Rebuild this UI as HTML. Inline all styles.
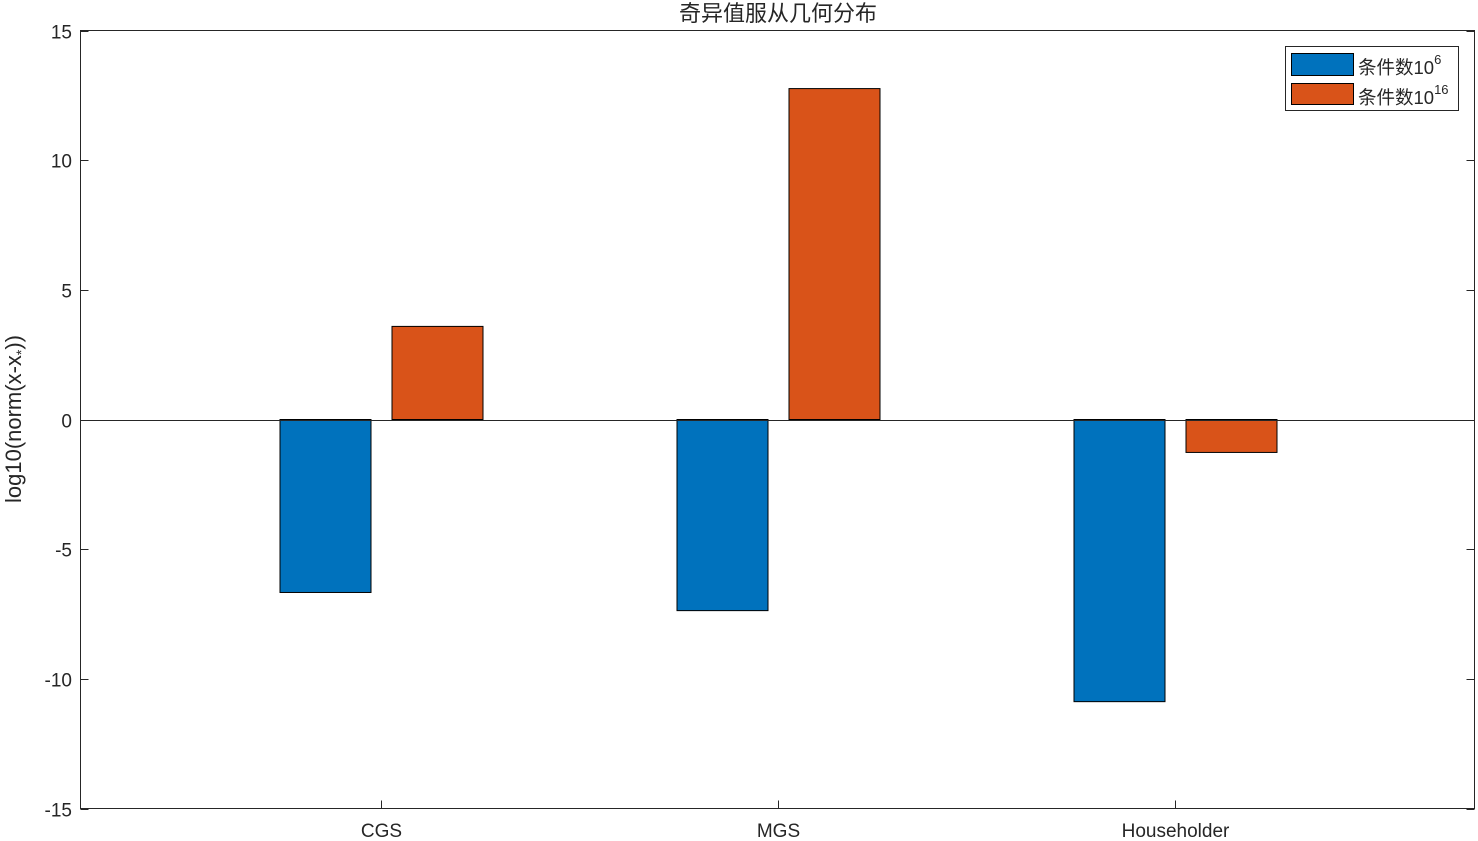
<!DOCTYPE html>
<html><head><meta charset="utf-8"><style>body{margin:0;background:#fff}svg{display:block;font-family:"Liberation Sans","Noto Sans CJK SC",sans-serif}</style></head>
<body>
<svg id="c" width="1478" height="841">
<text x="778" y="21" text-anchor="middle" font-size="22" fill="#262626">奇异值服从几何分布</text>
<text transform="translate(21,419) rotate(-90)" text-anchor="middle" font-size="22" fill="#262626">log10(norm(x-x<tspan font-size="14" dy="5">*</tspan><tspan dy="-5">))</tspan></text>
<g id="marks"></g>
<rect x="80.5" y="30.5" width="1394" height="778" fill="none" stroke="#262626"/>
<g>
<rect x="1285.5" y="46.5" width="173" height="64" fill="#fff" stroke="#262626"/>
<rect x="1291.5" y="53.5" width="62" height="22" fill="#0072BD" stroke="#000"/>
<text x="1358" y="74" font-size="18.5" fill="#262626">条件数10<tspan font-size="13" dy="-10">6</tspan></text>
<rect x="1291.5" y="83.5" width="62" height="21" fill="#D95319" stroke="#000"/>
<text x="1358" y="104" font-size="18.5" fill="#262626">条件数10<tspan font-size="13" dy="-10">16</tspan></text>
</g>
</svg>
<script>
const categories=["CGS","MGS","Householder"];
const cond6=[-6.67,-7.37,-10.88];
const cond16=[3.59,12.76,-1.27];
const yTicks=[15,10,5,0,-5,-10,-15];
const NS="http://www.w3.org/2000/svg";
const L=80.5,R=1474.5,T=30.5,B=808.5;
function y(v){return T+(15-v)*(B-T)/30;}
function x(i){return 381+i*397;}
const g=document.getElementById('marks');
function mk(t,a){const e=document.createElementNS(NS,t);for(const k in a)e.setAttribute(k,a[k]);g.appendChild(e);return e;}
yTicks.forEach(v=>{
  const yy=Math.round(y(v))+0.5;
  const a=mk('line',{x1:L,x2:L+8,y1:yy,y2:yy,stroke:'#262626'});
  
  
  const b=mk('line',{x1:R-8,x2:R,y1:yy,y2:yy,stroke:'#262626'});
  
  
  const t=mk('text',{x:72,y:yy+7,'text-anchor':'end','font-size':19,fill:'#262626'});
  t.textContent=v;
  
  
});
categories.forEach((c,i)=>{
  const xx=x(i)+0.5;
  const a=mk('line',{x1:xx,x2:xx,y1:B,y2:B-8,stroke:'#262626'});
  
  
  const t=mk('text',{x:xx,y:837,'text-anchor':'middle','font-size':19,fill:'#262626'});
  t.textContent=c;
  
  
  [[cond6,-56,'#0072BD','bar-cond1e6'],[cond16,56,'#D95319','bar-cond1e16']].forEach(([s,off,col,nm])=>{
    const v=s[i],y0=y(0),y1=y(v);
    const r=mk('rect',{x:x(i)+off-45.5+0.5,y:Math.min(y0,y1),width:91,height:Math.abs(y1-y0),fill:col,stroke:'#000'});
    
    
  });
});
const z=mk('line',{x1:L,x2:R,y1:Math.round(y(0))+0.5,y2:Math.round(y(0))+0.5,stroke:'#262626'});


</script>
</body></html>
